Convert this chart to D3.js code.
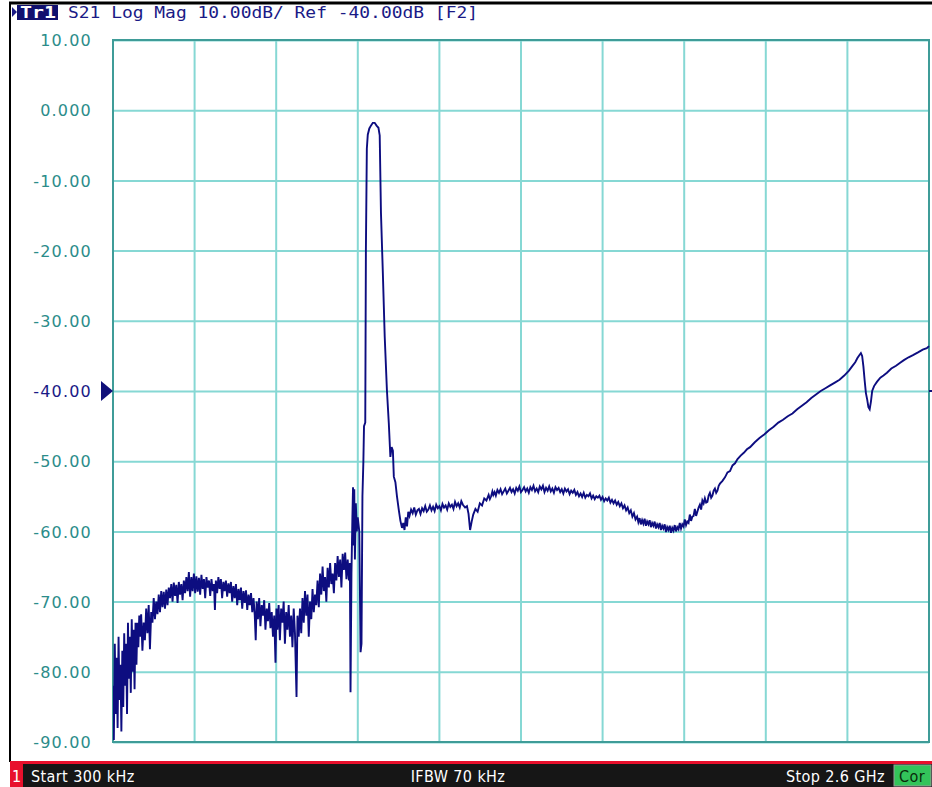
<!DOCTYPE html>
<html>
<head>
<meta charset="utf-8">
<script src="https://d3js.org/d3.v7.min.js"></script>
<style>
  body { margin: 0; background: #fff; }
  svg { display: block; }
  .ylab text { font: 16px "DejaVu Sans", sans-serif; letter-spacing: 1.2px; fill: #2b8c8a; }
  .bar text { font: 16px "Liberation Sans Narrow", "DejaVu Sans Condensed", sans-serif; letter-spacing: 0.4px; fill: #fff; }
</style>
</head>
<body>
<div id="chart"></div>
<script>
// S21 sweep, frequency in MHz, magnitude in dB
var trace = [
  [0.3,-82],[3,-89.7],[6,-76],[9,-86],[12,-78],[15,-88],[18,-75],[21,-84],[24,-79],[27,-88.5],
  [30,-77],[33,-85],[36,-74.5],[39,-82],[42,-76],[45,-86],[48,-73],[51,-81],[54,-75],[57,-83],
  [60,-72.5],[63,-80],[66,-74],[69,-82.5],[72,-73],[75,-79],[78,-73],[81,-76.5],[84,-72],[87,-75],
  [90,-71.8],[94,-77],[98,-73],[102,-75.5],[106,-71],[110,-74.5],[114,-70.5],[118,-76.8],[122,-71.5],[126,-73],
  [130,-69.5],[134,-72.5],[138,-70],[142,-71.8],[146,-69],[150,-71.5],[154,-68.5],[158,-70.8],[162,-68.6],[166,-71],
  [170,-68.3],[174,-70.5],[178,-68],[182,-69.5],[186,-67.5],[190,-70],[194,-67.3],[198,-69.2],[202,-67.6],[206,-70.2],
  [210,-67.2],[214,-69],[218,-67.5],[222,-69.8],[226,-67],[230,-68.8],[234,-66.5],[238,-68.5],[242,-65.8],[246,-69.3],
  [250,-66.5],[254,-68.5],[258,-66],[262,-68.8],[266,-66.4],[270,-68.6],[274,-66.6],[278,-69],[282,-66.2],[286,-68.2],
  [290,-66.8],[294,-69.5],[298,-66.5],[302,-68],[306,-67],[310,-69.2],[314,-66.8],[318,-68.5],[322,-67.5],[325,-71.2],
  [328,-67],[332,-68.8],[336,-66.5],[340,-68.2],[344,-66.8],[348,-69.5],[352,-67.2],[356,-68.5],[360,-67],[364,-69.3],
  [368,-67.4],[372,-68.8],[376,-67.2],[380,-70],[384,-67.8],[388,-69.5],[392,-67.5],[396,-70.5],[400,-68.2],[404,-69.8],
  [408,-68],[412,-71],[416,-68.5],[420,-70.2],[424,-68.4],[428,-71.2],[432,-69],[436,-70.5],[440,-68.8],[444,-71.5],
  [448,-69.5],[452,-72],[455,-75.5],[458,-70],[462,-72.5],[466,-69.5],[470,-73.5],[474,-70.5],[478,-72],[482,-69.8],
  [486,-74],[490,-71],[494,-72.8],[498,-70.2],[502,-73.8],[506,-71.5],[510,-75],[514,-72],[518,-78.7],[521,-71],
  [524,-74],[528,-70.5],[532,-75.5],[536,-71],[540,-73],[544,-70],[548,-76],[552,-71.5],[556,-74],[560,-70.5],
  [564,-75],[568,-72],[572,-76.5],[576,-71],[580,-74.5],[585,-83.6],[588,-72],[592,-75],[596,-71],[600,-74.5],
  [604,-69.5],[608,-73],[612,-68.5],[616,-72],[620,-69],[624,-75],[628,-70],[632,-72.5],[636,-68.2],[640,-71.5],
  [644,-69],[648,-70.5],[652,-67],[656,-70.8],[660,-66],[664,-69],[668,-65],[672,-68.5],[676,-66.5],[680,-70],
  [684,-65.2],[688,-68],[692,-64.5],[696,-67.5],[700,-66],[704,-68.8],[708,-64.5],[712,-67],[716,-63.5],[720,-66.5],
  [724,-64],[728,-68],[732,-63.2],[736,-65.5],[740,-63],[744,-66.8],[748,-64],[752,-67],[755,-64.5],[757,-82.9],
  [760,-66],[763,-58],[765,-53.7],[767,-62],[769,-54],[771,-64],[774,-56],[777,-60],[780,-58],[785,-60],
  [789,-77.2],[792,-76],[795,-55],[798,-50],[800,-45],[804,-44.5],[806,-20],[809,-5.5],[812,-3.5],[817,-2.6],
  [822,-2.2],[828,-1.8],[834,-1.8],[840,-2.2],[846,-2.5],[850,-3.6],[854,-14.6],[860,-23.2],[866,-32.3],[873,-39.9],
  [879,-44.6],[884,-49.4],[888,-48],[892,-48.5],[895,-52.2],[900,-53],[905,-55],[911,-57],[916,-58.5],[921,-59.5],
  [925,-58.8],[929,-59.8],[933,-58],[937,-59.3],[941,-57.2],[945,-57.8],[950,-56.9],[955,-57.4],[960,-56.6],[965,-57.6],
  [970,-57.0],[975,-56.8],[980,-57.5],[985,-56.7],[990,-57.1],[995,-56.4],[1000,-57.2],[1005,-56.9],[1010,-56.3],[1015,-57.0],
  [1020,-56.5],[1025,-57.1],[1030,-56.2],[1035,-56.7],[1040,-56.4],[1045,-57.0],[1050,-56.1],[1055,-56.6],[1060,-56.3],[1065,-56.9],
  [1070,-56.0],[1075,-56.5],[1080,-56.2],[1085,-56.8],[1090,-55.8],[1095,-56.4],[1100,-56.0],[1105,-56.6],[1110,-55.7],[1115,-56.2],
  [1122,-56.6],[1128,-56.4],[1133,-57.5],[1138,-59.8],[1143,-58.6],[1148,-57.6],[1155,-56.8],[1162,-57.2],[1169,-56.0],[1176,-56.3],
  [1183,-55.3],[1190,-55.6],[1197,-54.8],[1201,-55.4],[1205,-55.0],[1209,-54.3],[1212,-54.8],[1216,-54.4],[1220,-54.9],[1225,-54.1],
  [1230,-54.5],[1235,-54.0],[1240,-54.7],[1245,-54.3],[1250,-53.9],[1255,-54.6],[1260,-54.2],[1265,-53.8],[1270,-54.4],[1275,-54.0],
  [1280,-54.6],[1285,-53.8],[1290,-54.2],[1295,-53.6],[1300,-54.4],[1305,-54.1],[1310,-53.7],[1315,-54.3],[1320,-53.9],[1325,-54.5],
  [1330,-53.7],[1335,-54.1],[1340,-53.5],[1345,-54.3],[1350,-53.9],[1355,-54.4],[1360,-53.6],[1365,-54.0],[1370,-53.5],[1375,-54.4],
  [1380,-53.8],[1385,-54.2],[1390,-53.6],[1395,-54.3],[1400,-53.9],[1405,-54.5],[1410,-53.7],[1415,-54.1],[1420,-53.8],[1425,-54.4],
  [1430,-54.0],[1435,-54.6],[1440,-53.9],[1445,-54.3],[1450,-54.0],[1455,-54.7],[1460,-54.2],[1465,-54.5],[1470,-54.1],[1475,-54.8],
  [1480,-54.4],[1485,-55.0],[1490,-54.6],[1495,-55.1],[1500,-54.5],[1505,-55.2],[1510,-54.8],[1515,-55.0],[1520,-54.6],[1525,-55.3],
  [1530,-54.9],[1535,-55.4],[1540,-55.0],[1545,-55.2],[1550,-54.9],[1555,-55.5],[1560,-55.1],[1565,-55.7],[1570,-55.3],[1575,-55.6],
  [1580,-55.2],[1585,-55.9],[1590,-55.5],[1595,-56.0],[1600,-55.6],[1605,-56.2],[1610,-55.8],[1615,-56.4],[1620,-56.0],[1625,-56.7],
  [1630,-56.3],[1635,-57.0],[1640,-56.6],[1645,-57.4],[1650,-57.0],[1655,-57.9],[1660,-57.4],[1665,-58.3],[1670,-57.9],[1674,-58.7],
  [1678,-58.1],[1682,-59.0],[1686,-58.4],[1690,-58.9],[1694,-58.2],[1698,-59.2],[1702,-58.6],[1706,-59.0],[1710,-58.4],[1714,-59.4],
  [1718,-58.8],[1722,-59.2],[1726,-58.6],[1730,-59.6],[1734,-59.0],[1738,-59.4],[1742,-58.8],[1746,-59.8],[1750,-59.2],[1754,-59.6],
  [1758,-59.0],[1762,-60.1],[1766,-59.4],[1770,-59.8],[1774,-59.2],[1778,-60.2],[1782,-59.5],[1786,-59.9],[1790,-59.1],[1794,-60.0],
  [1798,-59.4],[1802,-59.7],[1806,-58.8],[1810,-59.6],[1814,-59.0],[1818,-59.3],[1822,-58.3],[1826,-59.1],[1830,-58.6],[1834,-58.8],
  [1838,-57.6],[1842,-58.5],[1846,-57.9],[1850,-57.8],[1854,-56.8],[1858,-57.8],[1862,-57.2],[1866,-56.6],[1870,-56.2],[1874,-56.9],
  [1878,-55.6],[1882,-56.0],[1886,-55.3],[1890,-55.9],[1894,-55.8],[1898,-54.9],[1902,-54.5],[1906,-55.2],[1910,-54.9],[1914,-54.2],
  [1918,-53.9],[1922,-54.5],[1926,-54.2],[1930,-53.5],[1934,-53.2],[1942,-52.8],[1950,-52.3],[1958,-51.6],
  [1966,-51.4],[1974,-50.6],[1982,-50.3],[1990,-49.7],[2000,-49.2],[2010,-48.8],[2020,-48.3],[2030,-48.0],[2045,-47.3],[2060,-46.7],
  [2075,-46.2],[2090,-45.6],[2105,-45.1],[2120,-44.5],[2135,-44.1],[2150,-43.6],[2165,-43.2],[2180,-42.6],[2195,-42.1],[2210,-41.6],
  [2225,-41.0],[2240,-40.5],[2255,-40.0],[2270,-39.6],[2285,-39.2],[2300,-38.8],[2315,-38.4],[2330,-37.8],[2345,-37.1],[2355,-36.5],
  [2365,-35.9],[2372,-35.3],[2378,-34.9],[2383,-34.6],[2387,-35.0],[2391,-36.5],[2395,-38.5],[2399,-40.3],[2403,-41.2],[2407,-42.3],
  [2411,-42.6],[2415,-41.5],[2419,-40.0],[2425,-39.3],[2434,-38.7],[2445,-38.1],[2455,-37.8],[2466,-37.4],[2480,-36.8],[2495,-36.4],
  [2507,-36.0],[2520,-35.6],[2535,-35.2],[2549,-34.9],[2565,-34.5],[2580,-34.1],[2593,-33.9],[2600,-33.6]
];

var startMHz = 0.3, stopMHz = 2600;
var yTicks = [10, 0, -10, -20, -30, -40, -50, -60, -70, -80, -90];
var yLabels = ["10.00", "0.000", "-10.00", "-20.00", "-30.00", "-40.00", "-50.00", "-60.00", "-70.00", "-80.00", "-90.00"];
var refLevel = -40;
var title = "S21 Log Mag 10.00dB/ Ref -40.00dB [F2]";
var statusText = ["Start 300 kHz", "IFBW 70 kHz", "Stop 2.6 GHz"];

var width = 932, height = 787;
var pLeft = 113, pRight = 929, pTop = 40, pBottom = 742;

var navy = "#1a1a86";
var svg = d3.select("#chart").append("svg")
  .attr("width", width).attr("height", height);

var x = d3.scaleLinear().domain([startMHz, stopMHz]).range([pLeft, pRight]);
var y = d3.scaleLinear().domain([-90, 10]).range([pBottom, pTop]);

// outer frame
svg.append("line").attr("x1", 9).attr("x2", width).attr("y1", 3).attr("y2", 3)
  .attr("stroke", "#000").attr("stroke-width", 3);
svg.append("line").attr("x1", 10).attr("x2", 10).attr("y1", 2).attr("y2", 762)
  .attr("stroke", "#000").attr("stroke-width", 2);

// title line
svg.append("path").attr("d", "M12,7 L17,12 L12,17 Z").attr("fill", navy);
svg.append("rect").attr("x", 17).attr("y", 5).attr("width", 41).attr("height", 15).attr("fill", "#10106e");
svg.append("text").attr("x", 20).attr("y", 18).text("Tr1")
  .attr("font-family", "DejaVu Sans Mono, monospace").attr("font-size", 16).attr("font-weight", "bold")
  .attr("fill", "#fff").attr("textLength", 36).attr("lengthAdjust", "spacingAndGlyphs");
svg.append("text").attr("x", 68).attr("y", 18).text(title)
  .attr("font-family", "DejaVu Sans Mono, monospace").attr("font-size", 16)
  .attr("fill", navy).attr("textLength", 410).attr("lengthAdjust", "spacingAndGlyphs");

// grid
var xGrid = d3.range(11).map(function (i) { return startMHz + i * (stopMHz - startMHz) / 10; });
svg.append("g").selectAll("line").data(xGrid).enter().append("line")
  .attr("x1", x).attr("x2", x).attr("y1", pTop).attr("y2", pBottom)
  .attr("stroke", "#86d8d4").attr("stroke-width", 2);

var yAxis = d3.axisLeft(y).tickValues(yTicks).tickSize(-(pRight - pLeft)).tickPadding(21)
  .tickFormat(function (d, i) { return yLabels[i]; });
var ga = svg.append("g").attr("class", "ylab").attr("transform", "translate(" + pLeft + ",0)").call(yAxis);
ga.select(".domain").remove();
ga.selectAll("line").attr("stroke", "#86d8d4").attr("stroke-width", 2);
ga.selectAll("text").attr("dy", "0.36em")
  .style("fill", function (d) { return d === refLevel ? navy : null; });

svg.append("rect").attr("x", pLeft).attr("y", pTop).attr("width", pRight - pLeft).attr("height", pBottom - pTop)
  .attr("fill", "none").attr("stroke", "#3f9c98").attr("stroke-width", 2);

// reference marker
var yr = y(refLevel);
svg.append("path").attr("d", "M101," + (yr - 10) + " L113," + yr + " L101," + (yr + 10) + " Z").attr("fill", "#10107a");
svg.append("line").attr("x1", pRight).attr("x2", width).attr("y1", yr).attr("y2", yr).attr("stroke", "#10107a").attr("stroke-width", 2);

// trace
svg.append("clipPath").attr("id", "plot").append("rect")
  .attr("x", pLeft).attr("y", pTop).attr("width", pRight - pLeft + 3).attr("height", pBottom - pTop);
var line = d3.line().x(function (d) { return x(d[0]); }).y(function (d) { return y(d[1]); });
svg.append("path").datum(trace).attr("d", line).attr("clip-path", "url(#plot)")
  .attr("fill", "none").attr("stroke", "#0d0d80").attr("stroke-width", 1.9).attr("stroke-linejoin", "miter");

// status bar
var bar = svg.append("g").attr("class", "bar");
bar.append("rect").attr("x", 10).attr("y", 761).attr("width", width - 10).attr("height", 3).attr("fill", "#e8102c");
bar.append("rect").attr("x", 10).attr("y", 764).attr("width", width - 10).attr("height", height - 764).attr("fill", "#161616");
bar.append("rect").attr("x", 10).attr("y", 764).attr("width", 13).attr("height", 23).attr("fill", "#e8102c");
bar.append("text").attr("x", 12).attr("y", 782).text("1");
bar.append("text").attr("x", 31).attr("y", 782).text(statusText[0]);
bar.append("text").attr("x", 458).attr("y", 782).attr("text-anchor", "middle").text(statusText[1]);
bar.append("text").attr("x", 885).attr("y", 782).attr("text-anchor", "end").text(statusText[2]);
bar.append("rect").attr("x", 894).attr("y", 765).attr("width", 37).attr("height", 21)
  .attr("fill", "#33c45a").attr("stroke", "#9a9a9a").attr("stroke-width", 1);
bar.append("text").attr("x", 912).attr("y", 782).attr("text-anchor", "middle").text("Cor").style("fill", "#0a2a0a");
</script>
</body>
</html>
